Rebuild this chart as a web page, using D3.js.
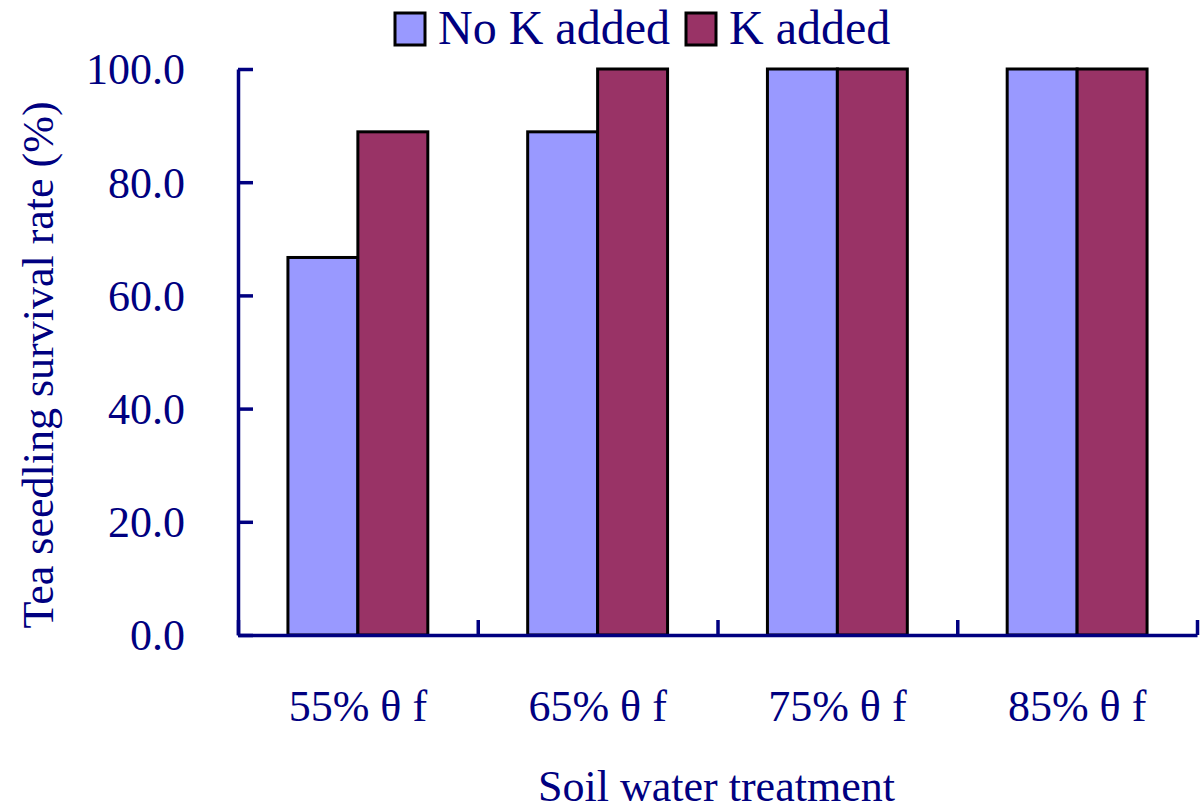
<!DOCTYPE html>
<html>
<head>
<meta charset="utf-8">
<script src="https://cdn.jsdelivr.net/npm/d3@7"></script>
<style>
  body { margin: 0; background: #fff; }
  text { font-family: "Liberation Serif", "Times New Roman", serif; fill: #000080; }
</style>
</head>
<body>
<div id="chart"></div>
<script>
// chart values
var categories = ["55% \u03b8 f", "65% \u03b8 f", "75% \u03b8 f", "85% \u03b8 f"];
var seriesNames = ["No K added", "K added"];
var noK = [66.7, 88.9, 100.0, 100.0];
var withK = [88.9, 100.0, 100.0, 100.0];
var yTicks = [0, 20, 40, 60, 80, 100];
var colors = ["#9999FF", "#993366"];

var w = 1202, h = 811;
var margin = {top: 69, right: 5, bottom: 176, left: 238};

var svg = d3.select("#chart").append("svg")
    .attr("width", w)
    .attr("height", h);

var x0 = d3.scaleBand()
    .domain(categories)
    .range([margin.left, w - margin.right])
    .padding(0);

var x1 = d3.scaleBand()
    .domain(seriesNames)
    .range([0, x0.bandwidth()])
    .paddingInner(0)
    .paddingOuter(0.714);

var yScale = d3.scaleLinear()
    .domain([0, 100])
    .range([h - margin.bottom, margin.top]);

var rows = categories.map(function(c, i) {
    return {cat: c, values: [noK[i], withK[i]]};
});

// bars
var groups = svg.selectAll("g.grp").data(rows)
    .enter().append("g")
    .attr("class", "grp")
    .attr("transform", function(d) { return "translate(" + x0(d.cat) + ",0)"; });

groups.selectAll("rect").data(function(d) {
        return d.values.map(function(v, j) { return {name: seriesNames[j], v: v, j: j}; });
    })
    .enter().append("rect")
    .attr("x", function(d) { return x1(d.name); })
    .attr("width", x1.bandwidth())
    .attr("y", function(d) { return yScale(d.v); })
    .attr("height", function(d) { return yScale(0) - yScale(d.v); })
    .attr("fill", function(d) { return colors[d.j]; })
    .attr("stroke", "#000")
    .attr("stroke-width", 3);

// y axis, ticks pointing inward
var yAxis = d3.axisLeft(yScale)
    .tickValues(yTicks)
    .tickSize(-15)
    .tickSizeOuter(0)
    .tickPadding(53)
    .tickFormat(d3.format(".1f"));

var yAxisGroup = svg.append("g")
    .attr("transform", "translate(" + margin.left + ",0)")
    .call(yAxis);
yAxisGroup.selectAll("path, line").attr("stroke", "#000080").attr("stroke-width", 3.5);
yAxisGroup.selectAll("text")
    .attr("font-size", 44)
    .attr("font-family", "Liberation Serif, serif")
    .attr("fill", "#000080")
    .attr("dy", "0.34em");

// x axis, ticks at category boundaries
var xb = d3.scaleLinear().domain([0, categories.length]).range(x0.range());
var xAxis = d3.axisBottom(xb)
    .ticks(categories.length)
    .tickSize(-15)
    .tickSizeOuter(0)
    .tickFormat("");
var xAxisGroup = svg.append("g")
    .attr("transform", "translate(0," + yScale(0) + ")")
    .call(xAxis);
xAxisGroup.selectAll("path, line").attr("stroke", "#000080").attr("stroke-width", 3.5);

// category labels
svg.selectAll("text.cat").data(categories)
    .enter().append("text")
    .attr("class", "cat")
    .attr("x", function(d) { return x0(d) + x0.bandwidth() / 2; })
    .attr("y", 721)
    .attr("text-anchor", "middle")
    .attr("font-size", 44)
    .text(function(d) { return d; });

// axis titles
svg.append("text")
    .attr("x", x0.range()[0] + (x0.range()[1] - x0.range()[0]) / 2 - 1)
    .attr("y", 801)
    .attr("text-anchor", "middle")
    .attr("font-size", 44)
    .text("Soil water treatment");

svg.append("text")
    .attr("transform", "translate(53," + 365 + ") rotate(-90)")
    .attr("text-anchor", "middle")
    .attr("font-size", 44)
    .text("Tea seedling survival rate (%)");

// legend
var legendX = [395, 686];
var legend = svg.selectAll("g.leg").data(seriesNames)
    .enter().append("g")
    .attr("class", "leg")
    .attr("transform", function(d, i) { return "translate(" + legendX[i] + ",13)"; });
legend.append("rect")
    .attr("width", 30)
    .attr("height", 32)
    .attr("fill", function(d, i) { return colors[i]; })
    .attr("stroke", "#000")
    .attr("stroke-width", 3);
legend.append("text")
    .attr("x", 43)
    .attr("y", 31)
    .attr("font-size", 48)
    .text(function(d) { return d; });
</script>
</body>
</html>
